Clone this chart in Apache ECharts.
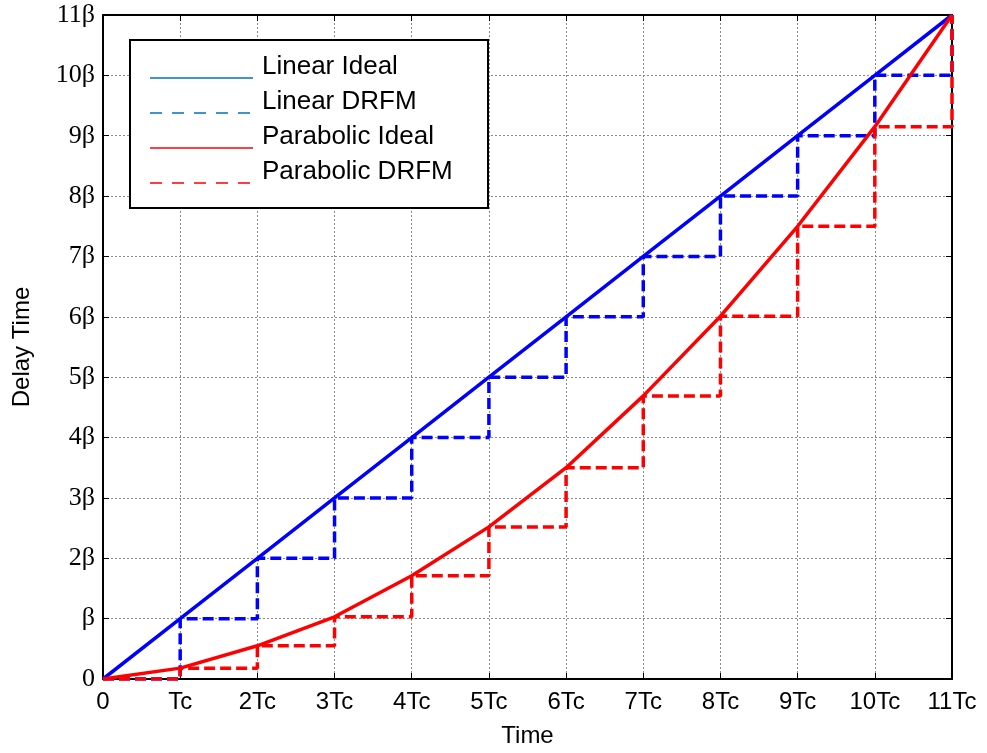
<!DOCTYPE html>
<html>
<head>
<meta charset="utf-8">
<script src="https://cdn.jsdelivr.net/npm/echarts@6/dist/echarts.min.js"></script>
<style>
  html, body { margin: 0; padding: 0; background: #fff; }
  #chart { width: 987px; height: 753px; }
</style>
</head>
<body>
<div id="chart"></div>
<script>
// time in units of Tc, delay in units of beta
const timePoints = [0, 1, 2, 3, 4, 5, 6, 7, 8, 9, 10, 11];
const linearIdeal = [0, 1, 2, 3, 4, 5, 6, 7, 8, 9, 10, 11];
const linearDrfm = [0, 1, 2, 3, 4, 5, 6, 7, 8, 9, 10, 11];
const parabolicIdeal = [0, 0.18, 0.55, 1.03, 1.71, 2.52, 3.5, 4.69, 6.01, 7.5, 9.15, 11];
const parabolicDrfm = [0, 0.18, 0.55, 1.03, 1.71, 2.52, 3.5, 4.69, 6.01, 7.5, 9.15, 11];

const xTickLabels = ["0", "Tc", "2Tc", "3Tc", "4Tc", "5Tc", "6Tc", "7Tc", "8Tc", "9Tc", "10Tc", "11Tc"];
const yTickLabels = ["0", "β", "2β", "3β", "4β", "5β", "6β", "7β", "8β", "9β", "10β", "11β"];

const seriesNames = ["Linear Ideal", "Linear DRFM", "Parabolic Ideal", "Parabolic DRFM"];

const pair = (ys) => timePoints.map((t, i) => [t, ys[i]]);

const chart = echarts.init(document.getElementById("chart"));

const sans = "'Liberation Sans', Arial, sans-serif";
const serif = "'Liberation Serif', 'Times New Roman', serif";
const dash = [11, 5];

// legend drawn as a boxed graphic, like the original figure
const legendRows = [
  { name: seriesNames[0], color: "#0072BD", dashed: false },
  { name: seriesNames[1], color: "#0072BD", dashed: true },
  { name: seriesNames[2], color: "#FF0000", dashed: false },
  { name: seriesNames[3], color: "#FF0000", dashed: true },
];
const legendGraphic = [
  {
    type: "rect",
    shape: { x: 130, y: 40, width: 358, height: 168 },
    style: { fill: "#fff", stroke: "#000", lineWidth: 2 },
    z: 100,
  },
];
legendRows.forEach((row, i) => {
  const lineStyle = { stroke: row.color, fill: null, lineWidth: 1.5 };
  if (row.dashed) lineStyle.lineDash = [12, 10];
  legendGraphic.push({
    type: "line",
    shape: { x1: 150, y1: 78 + i * 35, x2: 253, y2: 78 + i * 35 },
    style: lineStyle,
    z: 101,
  });
  legendGraphic.push({
    type: "text",
    x: 262,
    y: 67 + i * 35,
    style: {
      text: row.name,
      font: "26px " + sans,
      fill: "#000",
      verticalAlign: "middle",
    },
    z: 101,
  });
});

const option = {
  animation: false,
  grid: { left: 103, right: 35, top: 15, bottom: 73 },
  xAxis: [
    {
      type: "value",
      min: 0,
      max: 11,
      interval: 1,
      name: "Time",
      nameLocation: "middle",
      nameGap: 45,
      nameTextStyle: { fontFamily: sans, fontSize: 24, color: "#000" },
      axisLine: { onZero: false, lineStyle: { color: "#000", width: 2 } },
      axisTick: { inside: true, length: 6, lineStyle: { color: "#000" } },
      axisLabel: {
        margin: 11,
        fontFamily: sans,
        fontSize: 24,
        color: "#000",
        formatter: (v) => xTickLabels[Math.round(v)],
      },
      splitLine: { show: true, lineStyle: { color: "#8a8a8a", width: 1, type: [2, 2] } },
    },
    {
      type: "value",
      position: "top",
      min: 0,
      max: 11,
      interval: 1,
      axisLine: { onZero: false, lineStyle: { color: "#000", width: 2 } },
      axisTick: { inside: true, length: 6, lineStyle: { color: "#000" } },
      axisLabel: { show: false },
      splitLine: { show: false },
    },
  ],
  yAxis: [
    {
      type: "value",
      min: 0,
      max: 11,
      interval: 1,
      name: "Delay Time",
      nameLocation: "middle",
      nameGap: 69,
      nameTextStyle: { fontFamily: sans, fontSize: 24, color: "#000" },
      axisLine: { onZero: false, lineStyle: { color: "#000", width: 2 } },
      axisTick: { inside: true, length: 6, lineStyle: { color: "#000" } },
      axisLabel: {
        margin: 8,
        fontFamily: serif,
        fontSize: 26,
        color: "#000",
        formatter: (v) => yTickLabels[Math.round(v)],
      },
      splitLine: { show: true, lineStyle: { color: "#8a8a8a", width: 1, type: [2, 2] } },
    },
    {
      type: "value",
      position: "right",
      min: 0,
      max: 11,
      interval: 1,
      axisLine: { onZero: false, lineStyle: { color: "#000", width: 2 } },
      axisTick: { inside: true, length: 6, lineStyle: { color: "#000" } },
      axisLabel: { show: false },
      splitLine: { show: false },
    },
  ],
  series: [
    {
      name: seriesNames[0],
      type: "line",
      data: pair(linearIdeal),
      showSymbol: false,
      symbol: "none",
      lineStyle: { color: "#0000FF", width: 3.5 },
      z: 3,
    },
    {
      name: seriesNames[1],
      type: "line",
      step: "end",
      data: pair(linearDrfm),
      showSymbol: false,
      symbol: "none",
      lineStyle: { color: "#0000FF", width: 3.5, type: dash },
      z: 4,
    },
    {
      name: seriesNames[2],
      type: "line",
      data: pair(parabolicIdeal),
      showSymbol: false,
      symbol: "none",
      lineStyle: { color: "#FF0000", width: 3.5 },
      z: 5,
    },
    {
      name: seriesNames[3],
      type: "line",
      step: "end",
      data: pair(parabolicDrfm),
      showSymbol: false,
      symbol: "none",
      lineStyle: { color: "#FF0000", width: 3.5, type: dash },
      z: 6,
    },
  ],
  graphic: legendGraphic,
};

chart.setOption(option);
</script>
</body>
</html>
